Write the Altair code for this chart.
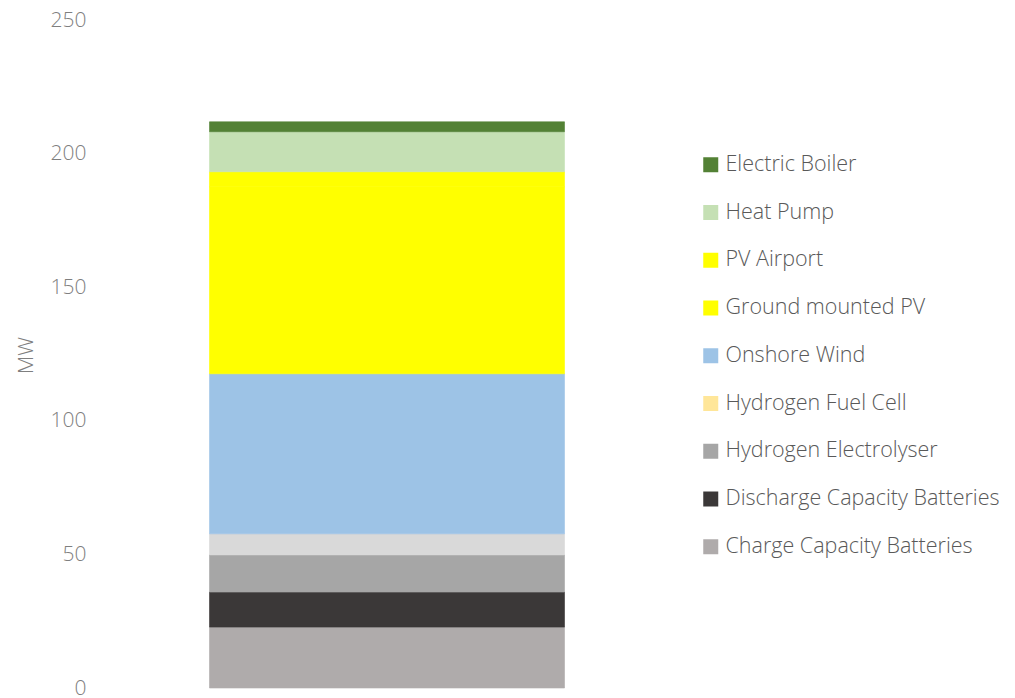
import altair as alt
import pandas as pd

categories = [
    "Charge Capacity Batteries",
    "Discharge Capacity Batteries",
    "Hydrogen Electrolyser",
    "Hydrogen Fuel Cell",
    "Onshore Wind",
    "Ground mounted PV",
    "PV Airport",
    "Heat Pump",
    "Electric Boiler",
]
values = [22.8, 13.1, 13.9, 7.9, 59.9, 70.0, 5.6, 15.0, 3.7]
bar_colors = ["#AFABAB", "#3B3838", "#A6A6A6", "#D9D9D9", "#9DC3E6",
              "#FFFF00", "#FFFF00", "#C5E0B4", "#538135"]
legend_colors = ["#AFABAB", "#3B3838", "#A6A6A6", "#FFE699", "#9DC3E6",
                 "#FFFF00", "#FFFF00", "#C5E0B4", "#538135"]
y_ticks = [0, 50, 100, 150, 200, 250]

df = pd.DataFrame({
    "group": ["Total"] * len(categories),
    "tech": categories,
    "mw": values,
    "idx": list(range(len(categories))),
})

legend_domain = categories[::-1]
FONT = "Open Sans"

x_enc = alt.X("group:N", axis=None, scale=alt.Scale(paddingInner=0, paddingOuter=0))
bar_scale = alt.Scale(domain=categories, range=bar_colors)

bars = alt.Chart(df).mark_bar(size=355, strokeWidth=0.6).encode(
    x=x_enc,
    y=alt.Y(
        "sum(mw):Q",
        stack="zero",
        scale=alt.Scale(domain=[0, 250]),
        axis=alt.Axis(
            values=y_ticks, grid=False, domain=False, ticks=False, tickSize=0,
            labelPadding=14, labelFontSize=21, labelColor="#7F7F7F",
            labelFont=FONT, labelFontWeight=300,
            title="MW", titleFontSize=21, titleColor="#7F7F7F",
            titleFont=FONT, titleFontWeight=300,
            titleX=-64, titleY=335,
        ),
    ),
    color=alt.Color("tech:N", scale=bar_scale, legend=None),
    stroke=alt.Stroke("tech:N", scale=bar_scale, legend=None),
    order=alt.Order("idx:Q", sort="ascending"),
)

legend_layer = alt.Chart(df).mark_square(opacity=0, size=1).encode(
    color=alt.Color(
        "tech:N",
        scale=alt.Scale(domain=legend_domain, range=legend_colors[::-1]),
        legend=alt.Legend(
            title=None, orient="none", legendX=600, legendY=134,
            symbolType="square", symbolSize=225, symbolOpacity=1,
            symbolStrokeWidth=0,
            labelFontSize=21.5, labelColor="#595959", labelFont=FONT,
            labelFontWeight=300, labelOffset=4, labelLimit=400,
            rowPadding=24.75, padding=0,
        ),
    ),
)

chart = alt.layer(bars, legend_layer).resolve_scale(
    color="independent", stroke="independent"
).properties(
    width=574,
    height=668,
    autosize=alt.AutoSizeParams(type="none"),
    padding={"left": 92, "top": 12, "right": 333, "bottom": 8},
).configure_view(stroke=None)

chart.save("out.html", embed_options={"renderer": "svg", "actions": False})
